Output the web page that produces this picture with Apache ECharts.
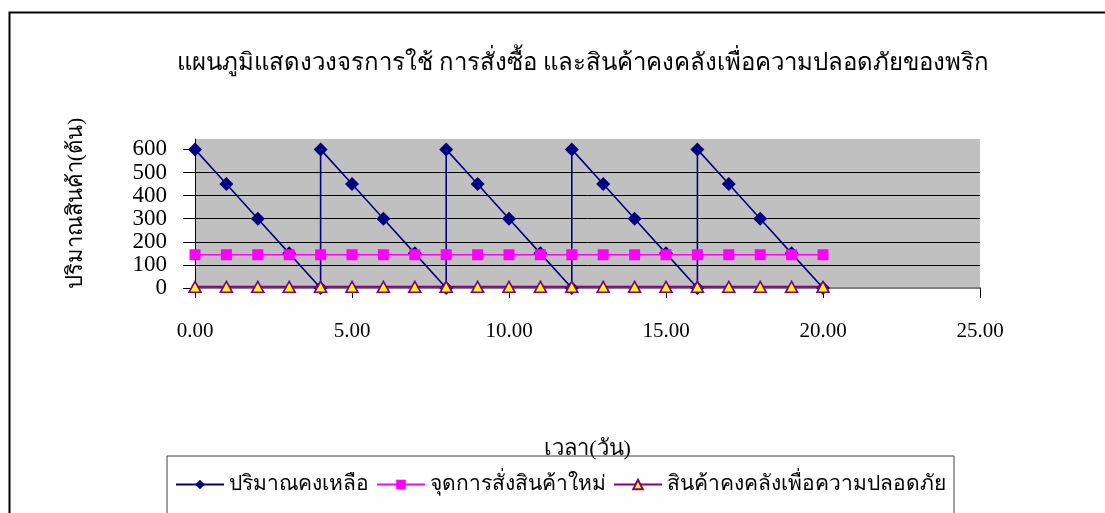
<!DOCTYPE html>
<html>
<head>
<meta charset="utf-8">
<script src="https://cdn.jsdelivr.net/npm/echarts@6/dist/echarts.min.js"></script>
<style>
  html, body { margin: 0; padding: 0; background: #ffffff; }
  #chart { width: 1105px; height: 513px; }
</style>
</head>
<body>
<div id="chart"></div>
<script>
// Stock-on-hand cycle: drop of 150 per day, replenished to 600 every 4 days
const cycleDays  = [0, 1, 2, 3, 4, 4, 5, 6, 7, 8, 8, 9, 10, 11, 12, 12, 13, 14, 15, 16, 16, 17, 18, 19, 20];
const stockLevel = [600, 450, 300, 150, 0, 600, 450, 300, 150, 0, 600, 450, 300, 150, 0, 600, 450, 300, 150, 0, 600, 450, 300, 150, 0];

// Reorder point and safety stock, daily points 0..20
const dailyDays    = [0, 1, 2, 3, 4, 5, 6, 7, 8, 9, 10, 11, 12, 13, 14, 15, 16, 17, 18, 19, 20];
const reorderPoint = [144, 144, 144, 144, 144, 144, 144, 144, 144, 144, 144, 144, 144, 144, 144, 144, 144, 144, 144, 144, 144];
const safetyStock  = [5, 5, 5, 5, 5, 5, 5, 5, 5, 5, 5, 5, 5, 5, 5, 5, 5, 5, 5, 5, 5];

const seriesNames = ['ปริมาณคงเหลือ', 'จุดการสั่งสินค้าใหม่', 'สินค้าคงคลังเพื่อความปลอดภัย'];
const chartTitle = 'แผนภูมิแสดงวงจรการใช้ การสั่งซื้อ และสินค้าคงคลังเพื่อความปลอดภัยของพริก';
const xAxisTitle = 'เวลา(วัน)';
const yAxisTitle = 'ปริมาณสินค้า(ต้น)';
const yTickValues = [0, 100, 200, 300, 400, 500, 600];

const pairs = (xs, ys) => xs.map((x, i) => [x, ys[i]]);

const FONT = "'Liberation Serif', 'DejaVu Serif', serif";

const chart = echarts.init(document.getElementById('chart'), null, { renderer: 'canvas' });
chart.setOption({
  backgroundColor: '#ffffff',
  animation: false,
  textStyle: { fontFamily: FONT, color: '#000' },
  graphic: [{
    type: 'rect',
    left: 7, top: 10,
    shape: { width: 1200, height: 600 },
    style: { fill: 'none', stroke: '#000', lineWidth: 2 },
    silent: true,
    z: -10
  }],
  title: {
    text: chartTitle,
    left: 172,
    top: 47,
    textStyle: { fontFamily: FONT, fontSize: 24, fontWeight: 'normal', color: '#000' }
  },
  grid: {
    left: 195, top: 139, width: 785, height: 149,
    show: true, backgroundColor: '#c0c0c0', borderWidth: 0
  },
  legend: {
    left: 167, top: 456,
    padding: [18, 8, 22, 8],
    borderColor: '#404040', borderWidth: 1,
    itemWidth: 48, itemHeight: 12, itemGap: 7,
    textStyle: { fontFamily: FONT, fontSize: 21, color: '#000' },
    data: seriesNames
  },
  xAxis: {
    type: 'value',
    min: 0, max: 25, interval: 5,
    name: xAxisTitle,
    nameLocation: 'middle',
    nameGap: 150,
    nameTextStyle: { fontFamily: FONT, fontSize: 22, color: '#000' },
    axisLine: { show: true, onZero: false, lineStyle: { color: '#808080', width: 2 } },
    axisTick: { show: true, length: 10, lineStyle: { color: '#000', width: 1 } },
    axisLabel: {
      margin: 33,
      fontFamily: FONT, fontSize: 21, color: '#000',
      formatter: v => v.toFixed(2)
    },
    splitLine: { show: false }
  },
  yAxis: {
    type: 'value',
    min: 0, max: 645, interval: 100,
    name: yAxisTitle,
    nameLocation: 'middle',
    nameGap: 108,
    nameRotate: 90,
    nameTextStyle: { fontFamily: FONT, fontSize: 22, color: '#000', padding: [0, 0, 0, 20] },
    axisLine: { show: true, lineStyle: { color: '#000', width: 1 } },
    axisTick: { show: true, length: 12, customValues: yTickValues, lineStyle: { color: '#000', width: 1 } },
    axisLabel: {
      margin: 28,
      customValues: yTickValues,
      fontFamily: FONT, fontSize: 23, color: '#000'
    },
    splitLine: { show: true, showMaxLine: false, lineStyle: { color: '#000', width: 1 } }
  },
  series: [
    {
      name: seriesNames[0],
      type: 'line',
      data: pairs(cycleDays, stockLevel),
      symbol: 'diamond', symbolSize: 14,
      lineStyle: { color: '#000080', width: 1.6 },
      itemStyle: { color: '#000080' },
      z: 2
    },
    {
      name: seriesNames[1],
      type: 'line',
      data: pairs(dailyDays, reorderPoint),
      symbol: 'rect', symbolSize: 11,
      lineStyle: { color: '#ff00ff', width: 1.6 },
      itemStyle: { color: '#ff00ff' },
      z: 3
    },
    {
      name: seriesNames[2],
      type: 'line',
      data: pairs(dailyDays, safetyStock),
      symbol: 'triangle', symbolSize: [12, 11],
      lineStyle: { color: '#800080', width: 2 },
      itemStyle: { color: '#ffff00', borderColor: '#800080', borderWidth: 1.6 },
      z: 4
    }
  ]
});
</script>
</body>
</html>
